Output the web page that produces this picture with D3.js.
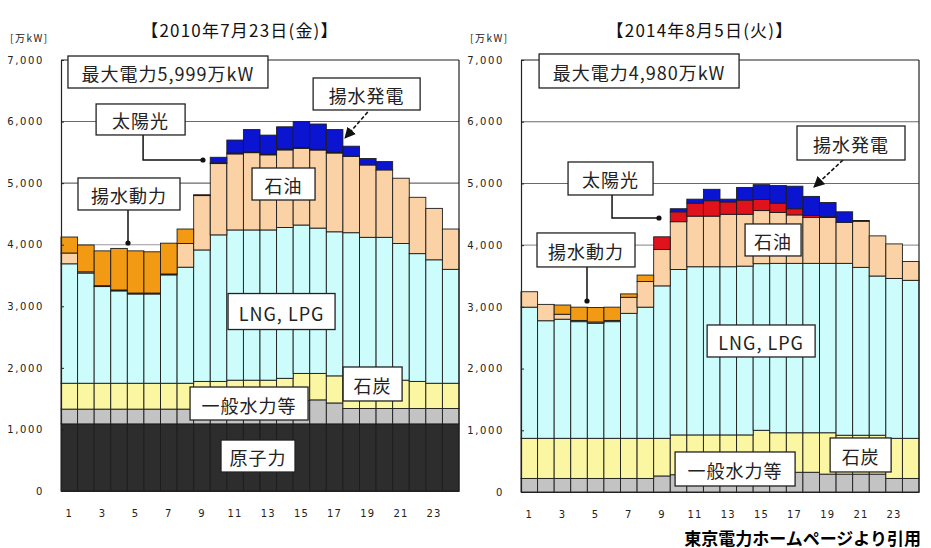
<!DOCTYPE html>
<html><head><meta charset="utf-8">
<script src="https://cdn.jsdelivr.net/npm/d3@7"></script>
<style>
body{margin:0;background:#fff;}
svg{display:block;font-family:"Noto Sans CJK JP","Noto Sans",sans-serif;}
</style></head><body>
<svg id="c" width="931" height="548"></svg>
<script>
// ---------- data ----------
const hours = [1,2,3,4,5,6,7,8,9,10,11,12,13,14,15,16,17,18,19,20,21,22,23,24];
const xTickHours = [1,3,5,7,9,11,13,15,17,19,21,23];
const xTickLabels = ["1","3","5","7","9","11","13","15","17","19","21","23"];
const yTickValues = [0,1000,2000,3000,4000,5000,6000,7000];
const gridValues = [4000,5000,6000];
const seriesKeys = ["nuclear","hydro","coal","lng","oil","solar","pumpGen","pumpPower"];
const seriesNames = ["原子力","一般水力等","石炭","LNG, LPG","石油","太陽光","揚水発電","揚水動力"];
const seriesColors = ["#2d2d2d","#c3c3c3","#fbf6a2","#cdfcfc","#fbd2a5","#e0121c","#0b14d0","#f39a14"];

// 2010-07-23 (万kW)
const nuclear2010   = [1090,1090,1090,1090,1090,1090,1090,1090,1090,1090,1090,1090,1090,1090,1090,1090,1090,1090,1090,1090,1090,1090,1090,1090];
const hydro2010     = [240,240,240,240,240,240,240,240,240,240,240,240,240,280,380,390,340,250,250,250,250,250,250,250];
const coal2010      = [420,420,420,420,420,420,420,420,450,450,470,470,470,460,440,430,440,460,460,460,460,440,410,410];
const lng2010       = [1940,1790,1570,1500,1450,1450,1760,1885,2135,2380,2440,2440,2440,2450,2410,2360,2340,2395,2320,2320,2220,2075,2005,1850];
const oil2010       = [175,20,15,15,15,15,15,385,890,1160,1235,1255,1220,1260,1245,1270,1285,1240,1175,1095,1060,915,835,655];
const solar2010     = [0,0,0,0,0,0,0,0,5,10,15,15,15,15,15,10,5,0,0,0,0,0,0,0];
const pumpGen2010   = [0,0,0,0,0,0,0,0,0,90,210,360,305,360,420,410,370,165,105,135,0,0,0,0];
const pumpPower2010 = [260,435,565,675,685,670,500,235,0,0,0,0,0,0,0,0,0,0,0,0,0,0,0,0];

// 2014-08-05 (万kW)
const nuclear2014   = [0,0,0,0,0,0,0,0,0,0,0,0,0,0,0,0,0,0,0,0,0,0,0,0];
const hydro2014     = [220,220,220,220,220,220,220,220,260,280,280,280,280,280,280,280,320,320,290,290,290,290,220,220];
const coal2014      = [650,650,650,650,650,650,650,650,610,645,645,645,645,645,720,680,640,640,670,630,630,630,650,650];
const lng2014       = [2125,1905,1930,1890,1865,1890,2025,2125,2470,2680,2725,2725,2725,2735,2700,2745,2745,2745,2745,2785,2720,2580,2590,2560];
const oil2014       = [250,265,80,20,20,20,260,415,590,775,820,820,850,840,860,825,785,745,745,665,750,650,560,305];
const solar2014     = [0,0,0,0,0,0,0,0,205,160,210,250,200,230,180,150,100,30,10,0,0,0,0,0];
const pumpGen2014   = [0,0,0,0,0,0,0,0,0,50,65,185,45,205,240,285,365,310,230,170,10,0,0,0];
const pumpPower2014 = [0,0,150,215,235,215,55,105,0,0,0,0,0,0,0,0,0,0,0,0,0,0,0,0];

const titles = ["【2010年7月23日(金)】","【2014年8月5日(火)】"];
const maxLabels = ["最大電力5,999万kW","最大電力4,980万kW"];
const unitLabel = "[万kW]";
const sourceLabel = "東京電力ホームページより引用";

// ---------- layout ----------
const panels = [
  { frame:{left:61,right:459,top:60,bottom:491}, titleX:240,
    series:[nuclear2010,hydro2010,coal2010,lng2010,oil2010,solar2010,pumpGen2010,pumpPower2010],
    boxes:[
      {t:maxLabels[0], h:6.95, v:6805, w:200, hh:32},
      {t:"太陽光", h:5.3, v:6034, w:89, hh:31},
      {t:"揚水発電", h:18.93, v:6448, w:107, hh:32},
      {t:"揚水動力", h:4.6, v:4824, w:102, hh:32},
      {t:"石油", h:13.92, v:4986, w:63, hh:32},
      {t:"LNG, LPG", h:13.8, v:2915, w:107, hh:36},
      {t:"一般水力等", h:11.84, v:1421, w:118, hh:33},
      {t:"石炭", h:19.29, v:1738, w:59, hh:34},
      {t:"原子力", h:12.38, v:568, w:74, hh:32}
    ],
    leaders:[ [[5.45,5782],[5.45,5376],[9.06,5376]], [[4.54,4564],[4.54,4028]] ],
    arrows:[ [[19.0,6156],[17.63,5733]] ]
  },
  { frame:{left:521,right:919,top:60,bottom:492}, titleX:700,
    series:[nuclear2014,hydro2014,coal2014,lng2014,oil2014,solar2014,pumpGen2014,pumpPower2014],
    boxes:[
      {t:maxLabels[1], h:7.62, v:6822, w:200, hh:34},
      {t:"揚水発電", h:20.4, v:5655, w:108, hh:34},
      {t:"太陽光", h:5.9, v:5080, w:85, hh:33},
      {t:"揚水動力", h:4.42, v:3922, w:98, hh:34},
      {t:"石油", h:15.7, v:4084, w:56, hh:32},
      {t:"LNG, LPG", h:14.98, v:2447, w:108, hh:32},
      {t:"一般水力等", h:13.41, v:373, w:120, hh:34},
      {t:"石炭", h:20.98, v:600, w:61, hh:34}
    ],
    leaders:[ [[5.99,4813],[5.99,4440],[8.82,4440]], [[4.48,3646],[4.48,3095]] ],
    arrows:[ [[19.92,5380],[18.17,4943]] ]
  }
];

const svg = d3.select("#c");
svg.append("rect").attr("width",931).attr("height",548).attr("fill","#fff");
const defs = svg.append("defs");
defs.append("marker").attr("id","arr").attr("viewBox","0 0 10 10").attr("refX",9).attr("refY",5)
  .attr("markerWidth",7).attr("markerHeight",7).attr("orient","auto")
  .append("path").attr("d","M0,0L10,5L0,10z").attr("fill","#111");

panels.forEach((p,pi)=>{
  const f = p.frame;
  const g = svg.append("g");
  const x = d3.scaleBand().domain(hours).range([f.left,f.right]).paddingInner(0).paddingOuter(0);
  const hx = d3.scaleLinear().domain([0.5,24.5]).range([f.left,f.right]);
  const y = d3.scaleLinear().domain([0,7000]).range([f.bottom,f.top]);

  const rows = hours.map((h,i)=>{
    const r = {hour:h};
    seriesKeys.forEach((k,j)=>{ r[k] = p.series[j][i]; });
    return r;
  });
  const stacked = d3.stack().keys(seriesKeys)(rows);

  // gridlines
  g.selectAll(".grid").data(gridValues).join("line")
    .attr("x1",f.left).attr("x2",f.right).attr("y1",d=>y(d)).attr("y2",d=>y(d))
    .attr("stroke",(d)=>d===4000?"#9a9a9a":"#6a6a6a").attr("stroke-width",1.1);

  // bars
  stacked.forEach((layer,li)=>{
    g.append("g").selectAll("rect").data(layer.filter(d=>d[1]-d[0]>0)).join("rect")
      .attr("x",d=>x(d.data.hour)).attr("width",x.bandwidth())
      .attr("y",d=>y(d[1])).attr("height",d=>Math.max(0.8,y(d[0])-y(d[1])))
      .attr("fill",seriesColors[li]).attr("stroke","#1c1c1c").attr("stroke-width",0.9);
  });

  // frame: top & right
  g.append("line").attr("x1",f.left).attr("x2",f.right).attr("y1",y(7000)).attr("y2",y(7000)).attr("stroke","#222").attr("stroke-width",1.2);
  g.append("line").attr("x1",f.right).attr("x2",f.right).attr("y1",y(7000)).attr("y2",y(0)).attr("stroke","#222").attr("stroke-width",1.2);

  // y axis
  const ya = g.append("g").attr("transform",`translate(${f.left},0)`)
    .call(d3.axisLeft(y).tickValues(yTickValues).tickFormat(d3.format(",")).tickSizeInner(-3).tickSizeOuter(0).tickPadding(17));
  ya.select(".domain").attr("stroke","#222").attr("stroke-width",1.2);
  ya.selectAll(".tick line").attr("stroke","#222");
  ya.selectAll("text").attr("font-family","DejaVu Sans, sans-serif").attr("font-size",10).attr("letter-spacing",1.6).attr("fill","#222");

  // x axis
  const xa = g.append("g").attr("transform",`translate(0,${f.bottom})`)
    .call(d3.axisBottom(x).tickValues(xTickHours).tickFormat((d,i)=>xTickLabels[i]).tickSize(0).tickPadding(19));
  xa.select(".domain").attr("stroke","#222").attr("stroke-width",1.2);
  xa.selectAll("text").attr("font-family","DejaVu Sans, sans-serif").attr("font-size",10).attr("letter-spacing",1.2).attr("fill","#222");

  // titles / unit
  g.append("text").attr("x",p.titleX).attr("y",29).attr("text-anchor","middle").attr("dominant-baseline","central")
    .attr("font-size",17).attr("letter-spacing",1.2).attr("fill","#111").text(titles[pi]);
  g.append("text").attr("x",f.left-51).attr("y",37).attr("dominant-baseline","central")
    .attr("font-size",10).attr("letter-spacing",1.5).attr("fill","#222").text(unitLabel);

  // leaders
  p.leaders.forEach(pts=>{
    g.append("path").attr("d",d3.line().x(d=>hx(d[0])).y(d=>y(d[1]))(pts))
      .attr("fill","none").attr("stroke","#111").attr("stroke-width",1.5);
    const e = pts[pts.length-1];
    g.append("circle").attr("cx",hx(e[0])).attr("cy",y(e[1])).attr("r",2.6).attr("fill","#111");
  });
  p.arrows.forEach(pts=>{
    g.append("line").attr("x1",hx(pts[0][0])).attr("y1",y(pts[0][1])).attr("x2",hx(pts[1][0])).attr("y2",y(pts[1][1]))
      .attr("stroke","#111").attr("stroke-width",1.6).attr("stroke-dasharray","4,2").attr("marker-end","url(#arr)");
  });

  // label boxes
  p.boxes.forEach(b=>{
    const cx = hx(b.h), cy = y(b.v);
    g.append("rect").attr("x",cx-b.w/2).attr("y",cy-b.hh/2).attr("width",b.w).attr("height",b.hh)
      .attr("fill","#fff").attr("stroke","#222").attr("stroke-width",1.3);
    g.append("text").attr("x",cx).attr("y",cy+1).attr("text-anchor","middle").attr("dominant-baseline","central")
      .attr("font-size",18).attr("letter-spacing",1).attr("fill","#222").text(b.t);
  });
});

svg.append("text").attr("x",921).attr("y",537).attr("text-anchor","end").attr("dominant-baseline","central")
  .attr("font-size",17).attr("font-weight","bold").attr("fill","#000").text(sourceLabel);
</script>
</body></html>
